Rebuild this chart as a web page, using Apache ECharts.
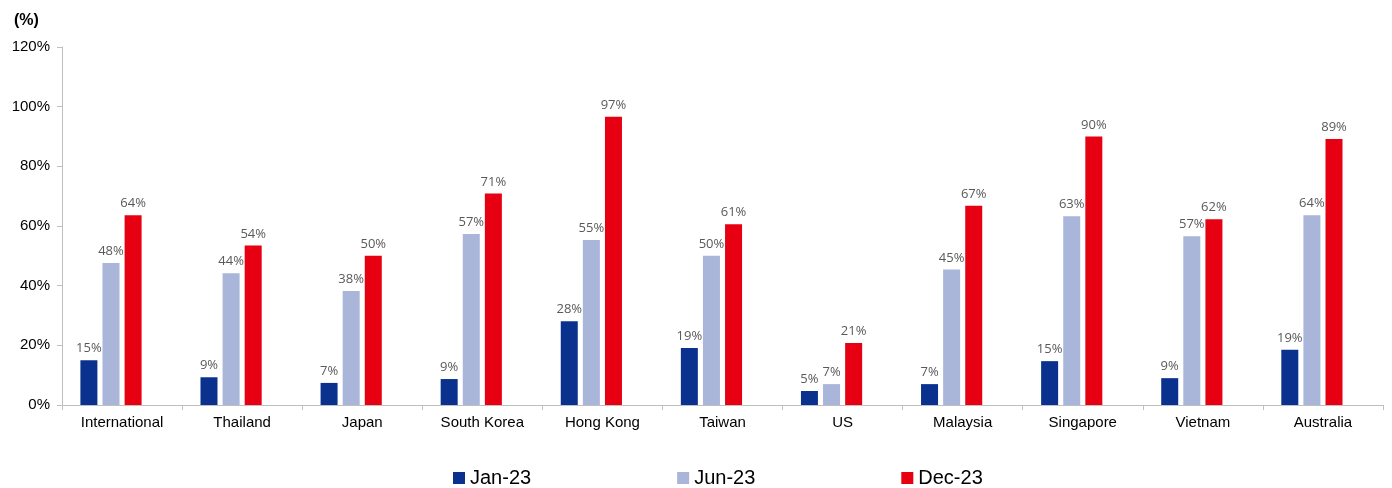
<!DOCTYPE html>
<html>
<head>
<meta charset="utf-8">
<script src="https://cdn.jsdelivr.net/npm/echarts@6/dist/echarts.min.js"></script>
<style>html,body{margin:0;padding:0;background:#fff}#c{width:1392px;height:488px}</style>
</head>
<body>
<div id="c"></div>
<script>
const categories = ['International','Thailand','Japan','South Korea','Hong Kong','Taiwan','US','Malaysia','Singapore','Vietnam','Australia'];
const jan23 = [15, 9.3, 7.4, 8.7, 28.1, 19.1, 4.7, 7.0, 14.7, 9.0, 18.5];
const jun23 = [47.6, 44.2, 38.2, 57.3, 55.3, 50.0, 7.0, 45.4, 63.3, 56.6, 63.6];
const dec23 = [63.6, 53.5, 50.0, 70.9, 96.6, 60.6, 20.8, 66.8, 90.0, 62.3, 89.2];
const seriesNames = ['Jan-23','Jun-23','Dec-23'];
const colors = ['#0b318f','#a9b5d9','#e60012'];
const yTicks = [0,20,40,60,80,100,120];

const chart = echarts.init(document.getElementById('c'), null, {renderer:'canvas'});
const labelCfg = {
  show: true, position: 'top', distance: 5,
  color: '#595959', fontFamily: 'Open Sans', fontSize: 13,
  formatter: p => Math.round(p.value) + '%'
};
const seriesData = [jan23, jun23, dec23];
const series = seriesData.map((d, i) => ({
  name: seriesNames[i], type: 'bar', data: d, barWidth: 17, barGap: '30%',
  itemStyle: {color: colors[i]}, label: labelCfg, emphasis: {disabled: true}
}));
// hidden empty slot series (reserves space like the original chart)
series.push({name: 'spacer', type: 'bar', data: [], barWidth: 17, barGap: '30%', silent: true});

chart.setOption({
  animation: false,
  title: {text: '(%)', left: 9, top: 8, textStyle: {fontFamily: 'Liberation Sans', fontSize: 16, fontWeight: 'bold', color: '#000'}},
  grid: {left: 62, right: 9, top: 47, bottom: 83, containLabel: false},
  legend: {
    data: seriesNames, left: 448, top: 463, itemGap: 146, itemWidth: 12, itemHeight: 12,
    icon: 'rect', textStyle: {fontFamily: 'Liberation Sans', fontSize: 20, color: '#000'}
  },
  xAxis: {
    type: 'category', data: categories,
    axisLine: {lineStyle: {color: '#bfbfbf', width: 1}},
    axisTick: {show: true, alignWithLabel: false, length: 5, lineStyle: {color: '#bfbfbf'}},
    axisLabel: {color: '#000', fontFamily: 'Liberation Sans', fontSize: 15, margin: 10, interval: 0}
  },
  yAxis: {
    type: 'value', min: yTicks[0], max: yTicks[yTicks.length-1], interval: 20,
    axisLine: {show: true, lineStyle: {color: '#bfbfbf', width: 1}},
    axisTick: {show: true, length: 5, lineStyle: {color: '#bfbfbf'}},
    splitLine: {show: false},
    axisLabel: {color: '#000', fontFamily: 'Liberation Sans', fontSize: 15, margin: 12, formatter: v => v + '%'}
  },
  series: series
});
</script>
</body>
</html>
